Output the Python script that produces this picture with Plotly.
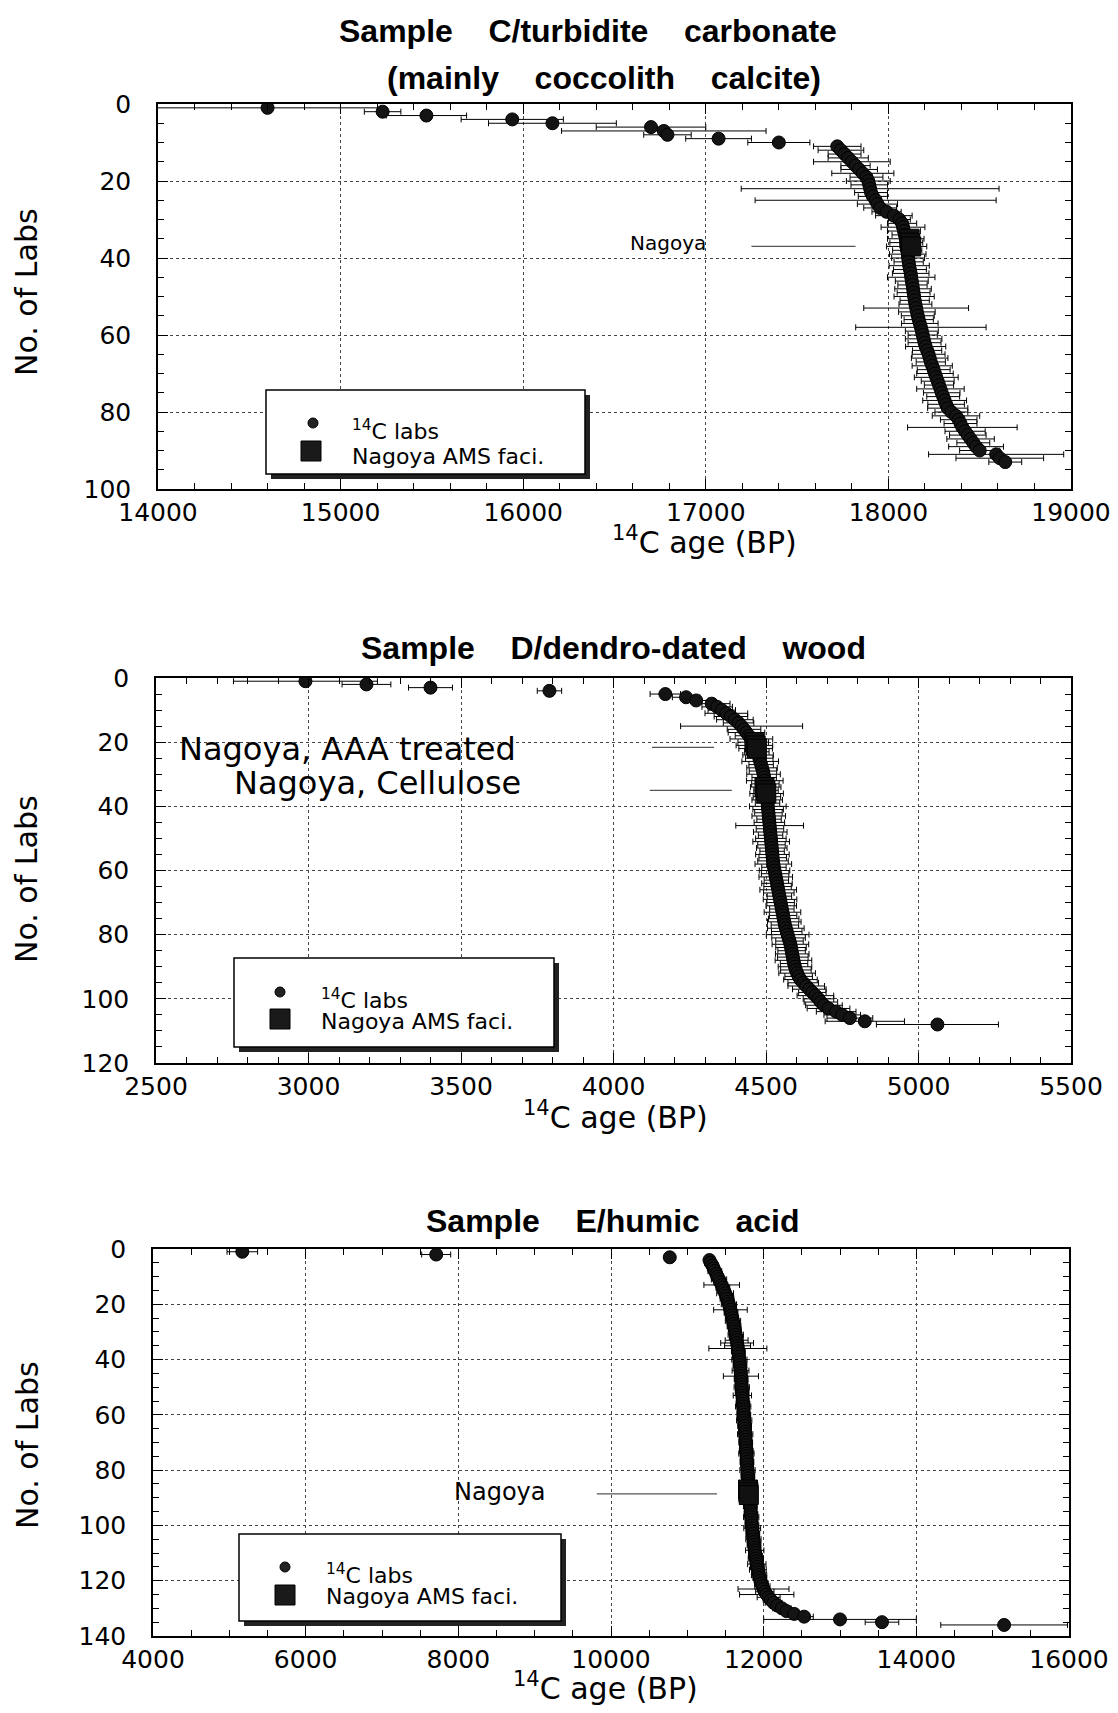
import plotly.graph_objects as go

# Sample C / turbidite carbonate : 14C age of each lab, sorted
c_age = [14600, 15230, 15470, 15940, 16160, 16700, 16770, 16790, 17070, 17400,
         17720, 17740, 17760, 17780, 17800, 17820, 17840, 17860, 17880, 17890,
         17895, 17900, 17905, 17915, 17930, 17940, 17955, 17990, 18030, 18060,
         18075, 18080, 18085, 18090, 18095, 18098, 18100, 18103, 18106, 18108,
         18111, 18114, 18118, 18122, 18125, 18128, 18132, 18135, 18138, 18141,
         18144, 18148, 18152, 18156, 18161, 18166, 18172, 18178, 18183, 18188,
         18193, 18198, 18204, 18212, 18220, 18226, 18232, 18240, 18248, 18255,
         18262, 18270, 18277, 18285, 18292, 18300, 18308, 18316, 18325, 18345,
         18370, 18385, 18395, 18405, 18420, 18435, 18450, 18465, 18480, 18500,
         18590, 18610, 18640]
c_err = [620, 100, 220, 280, 350, 300, 560, 130, 180, 170,
         130, 125, 90, 110, 210, 80, 100, 170, 90, 120,
         100, 706, 90, 80, 660, 110, 90, 80, 100, 60,
         80, 120, 90, 70, 100, 90, 110, 80, 100, 90,
         80, 110, 90, 100, 130, 90, 80, 100, 90, 110,
         80, 90, 287, 100, 90, 80, 100, 357, 90, 80,
         100, 90, 110, 80, 90, 100, 80, 110, 90, 100,
         120, 90, 80, 130, 100, 90, 120, 100, 110, 90,
         130, 100, 90, 300, 110, 100, 130, 90, 150, 110,
         370, 240, 90]
c_lab = list(range(1, len(c_age) + 1))
c_nagoya_age = [18115, 18120, 18125]
c_nagoya_lab = [35, 36, 37]

# Sample D / dendro-dated wood
d_age = [2990, 3190, 3400, 3790, 4170, 4238, 4271, 4322, 4340, 4355,
         4370, 4385, 4398, 4410, 4420, 4428, 4436, 4444, 4452, 4458,
         4462, 4466, 4470, 4474, 4478, 4481, 4484, 4487, 4490, 4492,
         4494, 4496, 4498, 4499, 4500, 4502, 4503, 4504, 4505, 4506,
         4507, 4508, 4509, 4510, 4511, 4512, 4513, 4514, 4515, 4516,
         4517, 4518, 4519, 4520, 4521, 4522, 4523, 4524, 4526, 4528,
         4530, 4532, 4534, 4536, 4538, 4540, 4542, 4544, 4546, 4548,
         4550, 4552, 4554, 4556, 4558, 4560, 4562, 4565, 4568, 4571,
         4574, 4577, 4580, 4582, 4584, 4586, 4588, 4590, 4592, 4595,
         4598, 4602, 4607, 4613, 4622, 4632, 4642, 4652, 4662, 4672,
         4680, 4690, 4705, 4730, 4750, 4775, 4824, 5062]
d_err = [236, 80, 72, 40, 50, 45, 40, 60, 50, 45,
         70, 55, 60, 50, 200, 55, 60, 45, 70, 50,
         60, 55, 40, 50, 45, 60, 40, 50, 45, 55,
         40, 60, 45, 50, 40, 55, 45, 50, 40, 60,
         50, 45, 55, 40, 50, 111, 45, 55, 40, 50,
         60, 45, 50, 40, 55, 45, 50, 60, 40, 50,
         45, 55, 40, 50, 45, 60, 50, 40, 55, 45,
         50, 40, 60, 45, 50, 55, 45, 60, 50, 70,
         55, 45, 60, 50, 45, 55, 50, 60, 45, 55,
         50, 60, 45, 55, 50, 60, 55, 45, 60, 50,
         55, 60, 70, 65, 60, 75, 130, 200]
d_lab = list(range(1, len(d_age) + 1))
d_aaa_age = [4462, 4466, 4470]
d_aaa_lab = [20, 21, 22]
d_cell_age = [4495, 4498, 4501]
d_cell_lab = [34, 35, 36]

# Sample E / humic acid
e_age = [5170, 7710, 10770, 11290, 11305, 11330, 11345, 11360, 11380, 11395,
         11415, 11430, 11450, 11465, 11480, 11495, 11510, 11520, 11535, 11545,
         11555, 11565, 11572, 11580, 11590, 11598, 11605, 11612, 11620, 11628,
         11634, 11640, 11646, 11652, 11658, 11662, 11668, 11672, 11677, 11682,
         11686, 11690, 11693, 11697, 11700, 11702, 11705, 11708, 11710, 11713,
         11716, 11718, 11721, 11724, 11726, 11729, 11732, 11735, 11737, 11740,
         11743, 11745, 11748, 11751, 11753, 11756, 11758, 11761, 11763, 11765,
         11768, 11770, 11772, 11774, 11776, 11778, 11781, 11783, 11785, 11788,
         11790, 11793, 11796, 11798, 11801, 11804, 11807, 11810, 11813, 11816,
         11819, 11822, 11825, 11828, 11831, 11834, 11837, 11840, 11843, 11846,
         11850, 11854, 11858, 11862, 11866, 11870, 11874, 11878, 11883, 11888,
         11893, 11898, 11904, 11910, 11917, 11924, 11932, 11940, 11949, 11958,
         11970, 11983, 11998, 12015, 12040, 12065, 12095, 12130, 12180, 12240,
         12300, 12400, 12530, 13000, 13550, 15150]
e_err = [200, 190, 50, 60, 80, 70, 60, 90, 70, 80,
         100, 80, 233, 90, 70, 110, 80, 90, 70, 100,
         80, 220, 90, 70, 80, 100, 70, 90, 80, 70,
         100, 90, 150, 215, 170, 380, 90, 80, 70, 100,
         80, 90, 70, 110, 80, 230, 90, 70, 80, 100,
         70, 90, 120, 80, 70, 90, 100, 80, 70, 90,
         80, 100, 70, 90, 80, 60, 100, 80, 70, 90,
         80, 70, 90, 100, 80, 70, 90, 80, 60, 100,
         80, 90, 70, 80, 100, 90, 80, 70, 90, 80,
         100, 70, 90, 80, 70, 90, 100, 80, 70, 90,
         110, 80, 90, 70, 100, 80, 90, 70, 120, 80,
         90, 100, 80, 120, 90, 110, 80, 100, 90, 80,
         90, 100, 334, 120, 356, 150, 100, 110, 90, 120,
         100, 110, 120, 1000, 220, 830]
e_lab = list(range(1, len(e_age) + 1))
e_nagoya_age = [11795, 11800, 11805]
e_nagoya_lab = [87, 88, 89]

# page is drawn with the browser's 8px body margin, so work in page pixels
W, H, OFF = 1102, 1697, 8


def px(x):
    return (x - OFF) / W


def py(y):
    return 1 - (y - OFF) / H


SANS = "DejaVu Sans"
BOLD = "Liberation Sans, Arial, sans-serif"
NB4 = "\u00a0" * 4

fig = go.Figure()

dot = dict(symbol="circle", size=13, color="#141414", line=dict(color="black", width=1))
sq = dict(symbol="square", size=19, color="#111111", line=dict(color="black", width=1))
bars = dict(type="data", color="black", thickness=1, width=3)


def add_panel(n, age, err, lab, squares):
    xa = "x" if n == 1 else f"x{n}"
    ya = "y" if n == 1 else f"y{n}"
    fig.add_trace(go.Scatter(x=age, y=lab, mode="markers", xaxis=xa, yaxis=ya,
                             marker=dot, error_x=dict(array=err, **bars), showlegend=False))
    for sa, sl in squares:
        fig.add_trace(go.Scatter(x=sa, y=sl, mode="markers", xaxis=xa, yaxis=ya,
                                 marker=sq, showlegend=False))


add_panel(1, c_age, c_err, c_lab, [(c_nagoya_age, c_nagoya_lab)])
add_panel(2, d_age, d_err, d_lab, [(d_aaa_age, d_aaa_lab), (d_cell_age, d_cell_lab)])
add_panel(3, e_age, e_err, e_lab, [(e_nagoya_age, e_nagoya_lab)])

axis_style = dict(showline=True, linecolor="black", linewidth=1.5, mirror="ticks",
                  ticks="inside", ticklen=10, tickwidth=1.2, tickcolor="black",
                  showgrid=True, gridcolor="#444", griddash="dot", gridwidth=1,
                  zeroline=False, automargin=False, tickformat="d",
                  ticklabeloverflow="allow",
                  tickfont=dict(family=SANS, size=25, color="black"))

# (left, right, top, bottom) in page px, x range, x major/minor, y max
panels = [
    ((158, 1071, 104, 489), [14000, 19000], 1000, 200, 100),
    ((156, 1071, 678, 1063), [2500, 5500], 500, 100, 120),
    ((153, 1069, 1249, 1636), [4000, 16000], 2000, 500, 140),
]
for i, ((l, r, t, b), xr, xd, xm, ymax) in enumerate(panels, start=1):
    sfx = "" if i == 1 else str(i)
    fig.update_layout({
        "xaxis" + sfx: dict(domain=[px(l), px(r)], anchor="y" + sfx, range=xr,
                            tick0=xr[0], dtick=xd, ticklabelstandoff=0,
                            minor=dict(ticks="inside", ticklen=6, tickwidth=1,
                                       tickcolor="black", dtick=xm, showgrid=False),
                            **axis_style),
        "yaxis" + sfx: dict(domain=[py(b), py(t)], anchor="x" + sfx, range=[ymax, 0],
                            tick0=0, dtick=20, ticklabelstandoff=20,
                            minor=dict(ticks="inside", ticklen=6, tickwidth=1,
                                       tickcolor="black", dtick=5, showgrid=False),
                            **axis_style),
    })

ann = []


def text(x, y, s, size, family=SANS, xanchor="center", angle=0):
    ann.append(dict(x=px(x), y=py(y), xref="paper", yref="paper", text=s, showarrow=False,
                    xanchor=xanchor, yanchor="middle", textangle=angle,
                    font=dict(family=family, size=size, color="black")))


# titles
text(588, 31, "<b>Sample" + NB4 + "C/turbidite" + NB4 + "carbonate</b>", 32, BOLD)
text(604, 78, "<b>(mainly" + NB4 + "coccolith" + NB4 + "calcite)</b>", 32, BOLD)
text(613, 648, "<b>Sample" + NB4 + "D/dendro-dated" + NB4 + "wood</b>", 32, BOLD)
text(612, 1221, "<b>Sample" + NB4 + "E/humic" + NB4 + "acid</b>", 32, BOLD)

# axis titles
for xc, yc in [(704, 540), (615, 1115), (606, 1686)]:
    text(xc, yc, "<sup>14</sup>C age (BP)", 30)
for yc in [292, 879, 1445]:
    text(27, yc, "No. of Labs", 30, angle=-90)

# Nagoya labels
text(668, 243, "Nagoya", 20)
text(347, 749, "Nagoya, AAA treated", 32)
text(377, 783, "Nagoya, Cellulose", 32)
text(500, 1492, "Nagoya", 24)

shapes = []
line_style = dict(color="#555", width=1.2)
for xa, ya, x0, x1, yv in [("x", "y", 17250, 17820, 37),
                           ("x2", "y2", 4126, 4330, 21.6),
                           ("x2", "y2", 4119, 4388, 35),
                           ("x3", "y3", 9815, 11388, 88.6)]:
    shapes.append(dict(type="line", xref=xa, yref=ya, x0=x0, x1=x1, y0=yv, y1=yv,
                       line=line_style))

# legend boxes drawn by hand (with the drop shadow)
legends = [
    # box, circle centre, square centre, text left, "C labs" y, "Nagoya" y
    ((266, 390, 590, 479), (313, 423), (311, 451), 350, 434, 456),
    ((234, 958, 559, 1052), (280, 992), (280, 1019), 319, 1003, 1021),
    ((239, 1534, 566, 1626), (285, 1567), (285, 1595), 324, 1578, 1596),
]
for (x0, y0, x1, y1), (cx, cy), (sx, sy), tx, ty1, ty2 in legends:
    shapes.append(dict(type="rect", xref="paper", yref="paper",
                       x0=px(x0 + 5), x1=px(x1), y0=py(y1), y1=py(y0 + 5),
                       fillcolor="#222", line=dict(width=0)))
    shapes.append(dict(type="rect", xref="paper", yref="paper",
                       x0=px(x0), x1=px(x1 - 5), y0=py(y1 - 5), y1=py(y0),
                       fillcolor="white", line=dict(color="black", width=1.5)))
    shapes.append(dict(type="circle", xref="paper", yref="paper",
                       x0=px(cx - 5), x1=px(cx + 5), y0=py(cy + 5), y1=py(cy - 5),
                       fillcolor="#222", line=dict(color="black", width=1)))
    shapes.append(dict(type="rect", xref="paper", yref="paper",
                       x0=px(sx - 10), x1=px(sx + 10), y0=py(sy + 10), y1=py(sy - 10),
                       fillcolor="#1a1a1a", line=dict(color="black", width=1)))
    text(tx, ty1 - 4, "<sup>14</sup>C labs", 22, xanchor="left")
    text(tx, ty2, "Nagoya AMS faci.", 22, xanchor="left")

fig.update_layout(width=W, height=H, margin=dict(l=0, r=0, t=0, b=0),
                  template="none", paper_bgcolor="white", plot_bgcolor="white",
                  annotations=ann, shapes=shapes, showlegend=False)

fig.write_html("out.html")
